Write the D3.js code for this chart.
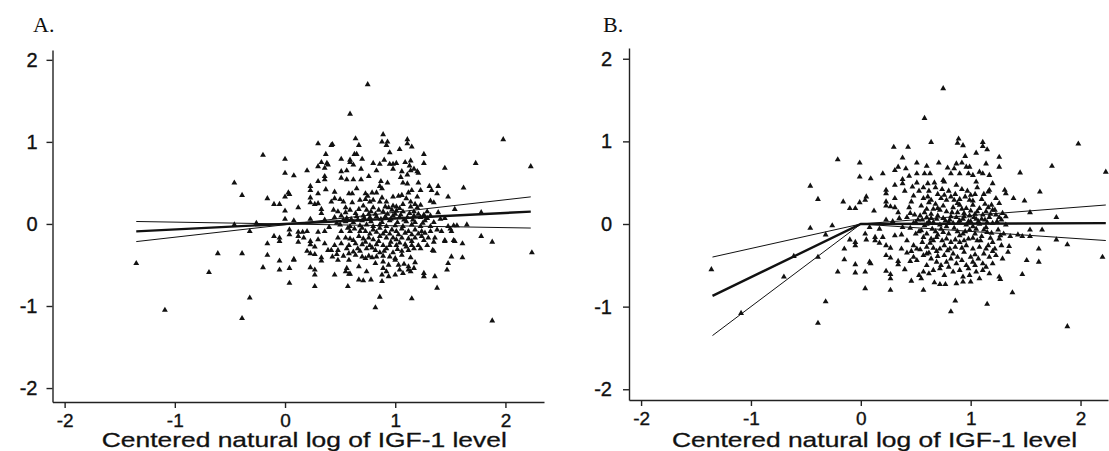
<!DOCTYPE html>
<html>
<head>
<meta charset="utf-8">
<script src="https://cdn.jsdelivr.net/npm/d3@7"></script>
<style>
  body { margin: 0; background: #fff; }
  svg { display: block; }
  .tick text { font-family: "Liberation Sans", Arial, sans-serif; }
</style>
</head>
<body>
<div id="chart"></div>
<script>
// ---- data ----
const xTicks = [-2, -1, 0, 1, 2]
const yTicks = [-2, -1, 0, 1, 2]
const panelLabels = ["A.", "B."]
const xTitle = "Centered natural log of IGF-1 level"

// fitted lines, panel A (straight), x from -1.35 to 2.23
const fitXA = [-1.35, 2.23]
const fitA = [-0.09, 0.15]
const ciA1 = [-0.215, 0.33]
const ciA2 = [0.03, -0.05]

// fitted lines, panel B (knot at 0)
const fitXB = [-1.35, 0, 2.23]
const fitB = [-0.87, 0, 0.01]
const ciB1 = [-0.40, 0, 0.23]
const ciB2 = [-1.35, 0, -0.20]

const pointsA = [
  [0.75,1.70],[0.59,1.34],[-0.46,0.50],[-0.39,0.35],[-0.20,0.84],[0.0,0.79],[0.0,0.62],[0.08,0.59],[-0.16,0.31],[-0.10,0.24],
  [-0.05,0.24],[0.0,0.33],[0.03,0.38],[0.0,0.16],[0.0,0.06],[0.12,0.20],[0.20,0.65],[0.30,0.98],[0.43,0.97],[0.37,0.85],
  [0.64,1.04],[0.89,1.09],[1.11,1.03],[1.15,0.94],[1.26,0.85],[1.26,0.74],[1.45,0.68],[1.73,0.74],[1.98,1.03],[2.23,0.70],
  [1.62,0.44],[1.54,0.18],[1.78,0.14],[1.48,0.33],
  [-1.35,-0.48],[-1.09,-1.05],[-0.69,-0.59],[-0.61,-0.36],[-0.39,-0.36],[-0.39,-1.15],[-0.32,-0.90],[-0.32,-0.09],[-0.26,0.01],[-0.20,-0.53],
  [-0.16,-0.24],[-0.16,-0.38],[-0.10,-0.15],[-0.05,-0.45],[-0.05,-0.56],[0.04,-0.13],[0.04,-0.07],[0.04,-0.72],[0.08,-0.43],[0.04,-0.54],
  [0.27,-0.76],[0.27,-0.56],[0.27,-0.62],[0.45,-0.62],[0.57,-0.76],[0.67,-0.68],[0.71,-0.69],[0.78,-0.68],[0.82,-1.02],[0.86,-0.89],
  [1.15,-0.91],[1.36,-0.64],[1.38,-0.78],[1.47,-0.56],[1.48,-0.48],[1.51,-0.40],[1.61,-0.41],[1.61,-0.24],[1.78,-0.15],[1.88,-0.22],
  [1.88,-1.18],[2.24,-0.35],[1.53,-0.20],[1.45,-0.20],[1.65,-0.01],[1.53,-0.02],[1.35,-0.22],[1.34,-0.32],[1.42,-0.09],[1.51,-0.09],
  [-0.46,-0.01],
  [0.30,0.70],[0.33,0.75],[0.36,0.68],[0.38,0.74],[0.39,0.72],[0.30,0.52],[0.36,0.54],[0.36,0.58],[0.23,0.46],[0.23,0.41],
  [0.37,0.42],[0.04,0.36],[0.30,0.37],[0.23,0.32],[0.23,0.26],[0.27,0.24],[0.30,0.25],[0.33,0.18],[0.33,0.13],[0.08,0.04],
  [0.23,0.06],[0.36,0.05],
  [0.42,0.96],[0.67,0.96],[0.88,1.0],[0.92,0.96],[0.93,1.0],[1.11,0.98],[1.04,0.91],[0.95,0.87],[0.63,0.85],[0.65,0.85],
  [0.59,0.78],[0.70,0.79],[0.51,0.79],[0.80,0.74],[0.86,0.73],[0.90,0.78],[0.95,0.73],[0.98,0.73],[1.01,0.74],[1.09,0.75],
  [1.14,0.77],[1.13,0.71],[1.17,0.67],[1.20,0.64],[1.21,0.62],[0.51,0.64],[0.56,0.65],[0.59,0.75],[0.62,0.72],[0.69,0.67],
  [0.76,0.58],[0.83,0.65],[0.98,0.67],[1.06,0.64],[1.05,0.57],[1.11,0.60],[1.14,0.65],[0.51,0.56],[0.56,0.54],[0.62,0.54],
  [0.69,0.54],[0.87,0.52],[0.93,0.50],[0.86,0.46],[1.07,0.50],[1.11,0.49],[1.21,0.50],[0.45,0.39],[0.58,0.37],[0.61,0.37],
  [0.65,0.43],[0.73,0.37],[0.75,0.34],[0.79,0.38],[0.83,0.38],[0.88,0.43],[0.98,0.33],[1.03,0.34],[1.06,0.35],[1.12,0.38],
  [1.15,0.41],[1.14,0.27],[1.20,0.33],[1.23,0.41],[1.31,0.46],[1.33,0.41],[1.39,0.46],[1.38,0.37],[1.32,0.28],[1.35,0.26],
  [0.45,0.31],[0.50,0.30],[0.42,0.27],[0.53,0.27],[0.68,0.29],[0.77,0.27],[0.80,0.29],[0.92,0.27],[0.86,0.27],[0.98,0.22],
  [1.01,0.21],[1.07,0.24],[1.18,0.24],[1.23,0.23],[1.39,0.14],[0.44,0.17],[0.48,0.15],[0.55,0.14],[0.59,0.17],[0.64,0.13],
  [0.71,0.22],[0.74,0.17],[0.80,0.20],[0.85,0.17],[0.89,0.15],[0.94,0.20],[0.97,0.17],[1.01,0.16],[1.07,0.15],[1.14,0.21],
  [1.20,0.20],[1.26,0.11],[1.29,0.15],[1.32,0.10],[0.45,0.08],[0.51,0.10],[0.56,0.07],[0.65,0.09],[0.71,0.10],[0.77,0.08],
  [0.83,0.09],[0.91,0.09],[0.98,0.10],[1.04,0.08],[1.11,0.08],[1.17,0.10],[1.23,0.08],[1.41,0.06],[1.45,0.07],[1.56,-0.02],
  [1.48,-0.03],[0.50,-0.01],[0.59,-0.03],[0.68,-0.02],[0.74,-0.01],[0.80,-0.03],[0.86,-0.01],[0.92,-0.03],[1.0,-0.02],[1.07,-0.03],
  [1.15,-0.01],[1.23,-0.03],[1.32,-0.03],
  [-0.05,-0.17],[-0.05,-0.21],[0.12,-0.10],[0.12,-0.15],[0.16,-0.10],[0.17,-0.17],[0.20,-0.09],[0.30,-0.10],[0.36,-0.09],[0.30,-0.19],
  [0.23,-0.21],[0.23,-0.25],[0.36,-0.24],[0.39,-0.32],[0.12,-0.22],[0.20,-0.33],[0.23,-0.36],[0.27,-0.37],[0.27,-0.28],[0.08,-0.44],
  [0.33,-0.41],[0.33,-0.45],[0.23,-0.53],
  [0.51,-0.09],[0.59,-0.09],[0.68,-0.09],[0.73,-0.09],[0.80,-0.07],[0.86,-0.05],[0.91,-0.09],[0.97,-0.07],[1.01,-0.09],[1.06,-0.06],
  [1.12,-0.09],[1.18,-0.07],[1.24,-0.09],[1.32,-0.09],[1.38,-0.07],[1.50,-0.06],[0.48,-0.17],[0.55,-0.17],[0.59,-0.18],[0.67,-0.15],
  [0.71,-0.18],[0.76,-0.17],[0.80,-0.19],[0.86,-0.15],[0.92,-0.17],[0.98,-0.17],[1.01,-0.19],[1.06,-0.17],[1.12,-0.18],[1.18,-0.17],
  [1.24,-0.15],[1.30,-0.17],[1.36,-0.17],[1.45,-0.21],[1.54,-0.21],[0.45,-0.26],[0.51,-0.24],[0.58,-0.26],[0.64,-0.24],[0.70,-0.25],
  [0.77,-0.26],[0.83,-0.25],[0.89,-0.26],[0.95,-0.26],[1.01,-0.26],[1.09,-0.25],[1.15,-0.26],[1.21,-0.26],[1.29,-0.26],[0.42,-0.32],
  [0.48,-0.32],[0.56,-0.30],[0.62,-0.34],[0.68,-0.33],[0.74,-0.30],[0.82,-0.32],[0.86,-0.35],[0.92,-0.30],[0.98,-0.35],[1.06,-0.33],
  [1.12,-0.32],[1.17,-0.30],[1.23,-0.30],[1.35,-0.33],[0.47,-0.37],[0.53,-0.39],[0.58,-0.36],[0.64,-0.38],[0.70,-0.40],[0.76,-0.39],
  [0.83,-0.40],[0.89,-0.39],[0.95,-0.40],[1.0,-0.42],[1.06,-0.38],[1.14,-0.41],[0.43,-0.40],[0.48,-0.44],[0.58,-0.44],[0.73,-0.42],
  [0.79,-0.41],[0.82,-0.48],[0.89,-0.46],[0.94,-0.50],[1.0,-0.44],[1.03,-0.50],[1.08,-0.49],[1.12,-0.52],[1.18,-0.47],[0.67,-0.52],
  [0.56,-0.54],[0.89,-0.54],[0.92,-0.58],[1.04,-0.56],[1.12,-0.56],[1.17,-0.54],[0.55,-0.58],[0.58,-0.61],[0.59,-0.61],[0.74,-0.58],
  [0.88,-0.62],[0.94,-0.64],[1.0,-0.62],[1.07,-0.60],[1.14,-0.58],[1.26,-0.60],[1.26,-0.64],[0.88,-0.70],
  [0.55,0.03],[0.62,0.02],[0.70,0.04],[0.78,0.03],[0.88,0.02],[0.95,0.04],[1.02,0.02],[1.10,0.03],[1.18,0.02],[1.27,0.04],
  [0.40,-0.04],[0.47,0.01],
  [0.53,0.05],[0.60,0.06],[0.66,0.05],[0.72,0.07],[0.76,0.12],[0.82,0.12],[0.87,0.06],[0.93,0.12],[0.96,0.06],[1.00,0.12],
  [1.05,0.11],[1.08,0.05],[1.13,0.13],[1.16,0.05],[1.21,0.12],[1.25,0.01],[1.29,0.07],[1.35,0.02],[0.57,-0.05],[0.63,-0.06],
  [0.70,-0.05],[0.77,-0.12],[0.83,-0.10],[0.89,-0.12],[0.95,-0.12],[1.03,-0.13],[1.09,-0.11],[1.15,-0.13],[1.21,-0.12],[1.27,-0.11],
  [0.62,-0.20],[0.73,-0.22],[0.85,-0.21],[0.96,-0.22],[1.04,-0.23],[1.15,-0.21],[1.26,-0.20],[0.66,-0.30],[0.79,-0.29],[0.90,-0.33],
  [1.02,-0.31],[1.10,-0.28],[0.55,0.20],[0.67,0.18],[0.78,0.15],[0.91,0.21],[1.04,0.19],[1.17,0.15],[0.61,0.26],[0.73,0.30],
  [0.88,0.32],[1.10,0.31]
]

const pointsB = [
  [0.75,1.64],[0.58,1.28],[-0.46,0.46],[-0.39,0.30],[-0.21,0.78],[-0.16,0.27],[-0.10,0.19],[-0.05,0.19],[-0.01,0.74],[-0.01,0.57],
  [0.09,0.55],[0.04,0.29],[-0.01,0.26],[0.12,0.16],[0.20,0.61],[0.30,0.93],[0.43,0.93],[0.64,0.99],[0.89,1.03],[1.11,0.99],
  [1.15,0.90],[1.26,0.81],[1.26,0.69],[1.45,0.62],[1.74,0.70],[1.98,0.97],[2.23,0.63],[1.63,0.39],[1.49,0.28],[1.54,0.14],
  [1.78,0.08],[1.39,0.31],
  [-1.36,-0.55],[-1.09,-1.08],[-0.70,-0.64],[-0.61,-0.39],[-0.39,-0.40],[-0.39,-1.20],[-0.32,-0.94],[-0.32,-0.13],[-0.26,-0.02],[-0.46,-0.05],
  [-0.21,-0.58],[-0.15,-0.30],[-0.15,-0.43],[-0.10,-0.19],[-0.05,-0.49],[-0.05,-0.59],[0.04,-0.12],[0.04,-0.78],[0.09,-0.48],[0.04,-0.58],
  [0.27,-0.80],[0.27,-0.61],[0.27,-0.66],[0.46,-0.69],[0.57,-0.80],[0.67,-0.71],[0.72,-0.73],[0.77,-0.73],[0.82,-1.06],[0.86,-0.93],
  [1.15,-0.97],[1.27,-0.67],[1.38,-0.83],[1.47,-0.61],[1.51,-0.44],[1.62,-0.46],[1.62,-0.30],[1.78,-0.19],[1.88,-0.25],[1.88,-1.24],
  [2.20,-0.40],[1.47,-0.15],[1.54,-0.15],[1.65,-0.07],[1.54,-0.07],[1.36,-0.15],[1.35,-0.27],[1.43,-0.13],
  [0.38,0.80],[0.34,0.69],[0.31,0.65],[0.41,0.67],[0.38,0.54],[0.38,0.49],[0.31,0.47],[0.23,0.41],[0.23,0.37],[0.31,0.31],
  [0.23,0.27],[0.23,0.22],[0.27,0.21],[0.31,0.20],[0.34,0.14],[0.48,0.34],[0.46,0.27],[0.51,0.74],[0.58,0.61],[0.60,0.70],
  [0.71,0.74],[0.51,0.61],[0.51,0.50],[0.57,0.44],[0.61,0.49],[0.67,0.50],[0.63,0.61],[0.75,0.53],[0.76,0.51],[0.79,0.68],
  [0.85,0.67],[0.93,0.95],[0.88,0.98],[0.95,0.82],[0.87,0.73],[0.92,0.74],[0.96,0.69],[0.99,0.69],[1.05,0.86],[1.11,0.94],
  [1.14,0.73],[0.82,0.61],[0.90,0.61],[0.98,0.61],[1.02,0.59],[1.08,0.63],[1.11,0.61],[1.17,0.59],[1.20,0.49],[1.05,0.51],
  [0.87,0.47],[0.92,0.42],[0.95,0.33],[0.99,0.29],[1.02,0.28],[1.16,0.39],[1.17,0.41],[1.23,0.31],[1.31,0.41],[1.32,0.37],
  [0.05,0.33],[0.57,0.31],[0.61,0.33],[0.64,0.29],[0.73,0.31],[0.78,0.29],[0.82,0.33],[0.85,0.29],[0.90,0.23],[0.96,0.19],
  [1.02,0.23],[1.08,0.19],[1.14,0.15],[1.20,0.17],[1.26,0.25],[1.32,0.09],[0.72,0.17],[0.78,0.15],[0.66,0.18],[0.45,0.13],
  [0.49,0.11],[0.54,0.10],[0.60,0.08],[0.35,0.07],[0.42,0.08],[0.69,0.06],[0.75,0.07],[0.81,0.05],[0.87,0.08],[0.93,0.06],
  [0.99,0.10],[1.05,0.06],[1.11,0.11],[1.17,0.08],[1.23,0.11],[1.29,0.13],[0.23,0.05],[0.29,0.03],[0.48,0.01],[0.60,0.0],
  [0.72,-0.01],[0.84,0.01],[0.96,-0.01],[1.08,0.0],[1.20,0.01],[1.32,-0.01],
  [-0.05,-0.22],[-0.05,-0.26],[0.05,-0.19],[0.13,-0.16],[0.13,-0.20],[0.17,-0.23],[0.20,-0.16],[0.17,-0.06],[0.08,-0.04],[0.31,-0.14],
  [0.37,-0.13],[0.38,-0.04],[0.23,-0.26],[0.27,-0.29],[0.23,-0.38],[0.27,-0.41],[0.34,-0.45],[0.34,-0.49],[0.42,-0.35],[0.46,-0.33],
  [0.48,-0.40],[0.51,-0.44],[0.51,-0.30],[0.56,-0.22],[0.57,-0.38],[0.60,-0.28],[0.63,-0.23],[0.66,-0.20],[0.69,-0.16],[0.72,-0.30],
  [0.76,-0.26],[0.79,-0.32],[0.84,-0.36],[0.90,-0.22],[0.96,-0.26],[1.02,-0.30],[1.08,-0.28],[1.14,-0.30],[1.20,-0.22],[1.26,-0.18],
  [1.34,-0.34],[0.69,-0.46],[0.73,-0.50],[0.78,-0.46],[0.82,-0.42],[0.87,-0.48],[0.92,-0.44],[0.96,-0.50],[1.02,-0.46],[1.07,-0.42],
  [1.11,-0.48],[1.17,-0.40],[1.23,-0.38],[1.29,-0.42],[0.08,-0.46],[0.23,-0.57],[0.53,-0.62],[0.57,-0.58],[0.55,-0.66],[0.66,-0.56],
  [0.72,-0.54],[0.84,-0.58],[0.90,-0.56],[0.93,-0.64],[0.99,-0.62],[1.05,-0.58],[1.11,-0.56],[1.17,-0.60],[1.26,-0.64],[0.87,-0.72],
  [0.93,-0.70],
  [0.45,-0.05],[0.55,-0.08],[0.65,-0.06],[0.75,-0.10],[0.85,-0.05],[0.95,-0.09],[1.05,-0.06],[1.15,-0.10],[1.25,-0.07],[0.50,-0.12],
  [0.70,-0.13],[0.90,-0.14],[1.10,-0.15],[1.30,-0.12],[0.62,0.03],[0.80,0.02],[1.0,0.03],[1.15,0.02],
  [0.44,0.58],[0.47,0.45],[0.53,0.40],[0.62,0.40],[0.68,0.44],[0.70,0.36],[0.74,0.42],[0.80,0.40],[0.86,0.36],[0.90,0.30],
  [0.97,0.40],[1.04,0.36],[1.10,0.30],[1.13,0.24],[1.06,0.44],[0.55,0.22],[0.60,0.18],[0.68,0.24],[0.75,0.22],[0.84,0.20],
  [0.88,0.14],[0.94,0.13],[1.00,0.16],[1.04,0.12],[1.10,0.06],[1.16,0.20],[1.22,0.17],[1.28,0.05],[0.52,0.05],[0.58,-0.02],
  [0.66,0.02],[0.78,-0.03],[0.90,0.04],[1.02,-0.03],[1.14,-0.04],[1.24,0.03],[0.42,-0.20],[0.48,-0.26],[0.54,-0.31],[0.62,-0.35],
  [0.66,-0.29],[0.70,-0.39],[0.74,-0.20],[0.82,-0.22],[0.86,-0.28],[0.88,-0.40],[0.94,-0.34],[0.98,-0.18],[1.00,-0.40],[1.06,-0.20],
  [1.12,-0.36],[1.16,-0.26],[1.22,-0.30],[1.28,-0.26],[0.60,-0.50],[0.64,-0.42],[0.76,-0.38],[0.80,-0.52],[0.98,-0.54],[1.04,-0.50],
  [1.14,-0.52],[1.20,-0.48],[0.62,-0.60],[0.76,-0.62],[1.08,-0.66],[1.00,-0.70],[0.40,-0.55],[0.45,-0.45],[0.37,-0.30],[0.40,0.40],
  [0.44,0.20],
  [0.50,0.02],[0.56,0.05],[0.64,0.07],[0.70,0.10],[0.77,0.04],[0.82,0.09],[0.89,0.02],[0.94,0.09],[0.98,0.03],[1.03,0.08],
  [1.07,0.03],[1.13,0.05],[1.18,0.12],[1.26,0.08],[0.53,-0.09],[0.60,-0.12],[0.68,-0.09],[0.73,-0.06],[0.80,-0.12],[0.88,-0.09],
  [0.93,-0.12],[0.99,-0.07],[1.04,-0.12],[1.12,-0.07],[1.19,-0.11],[1.27,-0.14],[0.57,-0.16],[0.64,-0.18],[0.78,-0.18],[0.86,-0.19],
  [0.94,-0.20],[1.02,-0.17],[1.09,-0.20],[1.18,-0.17],[0.60,-0.36],[0.69,-0.33],[0.81,-0.30],[0.92,-0.29],[1.04,-0.37],[1.20,-0.33],
  [0.58,0.14],[0.64,0.12],[0.70,0.19],[0.83,0.14],[0.92,0.18],[1.06,0.15],[1.19,0.23],[0.62,0.26],[0.76,0.35],[0.88,0.25],
  [1.00,0.35],[1.12,0.36]
]

// ---- drawing ----
var width = 1109,
    height = 451

var svg = d3.select('#chart')
    .append('svg')
    .attr("width", width)
    .attr("height", height)

svg.append("rect")
    .attr("width", width)
    .attr("height", height)
    .attr("fill", "#fff")

var panels = [
    { label: panelLabels[0], labelX: 33, left: 52.5, right: 544, top: 50, bottom: 402,
      xDom: [-2.11, 2.35], yDom: [-2.17, 2.12], pts: pointsA, yPad: 9,
      lines: [[fitXA, ciA1, 1], [fitXA, ciA2, 1], [fitXA, fitA, 2.4]] },
    { label: panelLabels[1], labelX: 603, left: 629, right: 1108, top: 48, bottom: 400,
      xDom: [-2.11, 2.25], yDom: [-2.13, 2.13], pts: pointsB, yPad: 11,
      lines: [[fitXB, ciB1, 1], [fitXB, ciB2, 1], [fitXB, fitB, 2.4]] }
]

panels.forEach(function (p) {
    var x = d3.scaleLinear().domain(p.xDom).range([p.left, p.right])
    var y = d3.scaleLinear().domain(p.yDom).range([p.bottom, p.top])

    var g = svg.append("g")

    // panel letter
    g.append("text")
        .attr("x", p.labelX)
        .attr("y", 32)
        .attr("font-family", '"Liberation Serif", "Times New Roman", serif')
        .attr("font-size", 22)
        .attr("fill", "#111")
        .text(p.label)

    // y axis
    var yAxis = g.append("g")
        .attr("transform", "translate(" + p.left + ",0)")
        .call(d3.axisLeft(y).tickValues(yTicks).tickFormat(d3.format("d"))
            .tickSize(6).tickSizeOuter(0).tickPadding(p.yPad))

    // x axis
    var xAxis = g.append("g")
        .attr("transform", "translate(0," + p.bottom + ")")
        .call(d3.axisBottom(x).tickValues(xTicks).tickFormat(d3.format("d"))
            .tickSize(6).tickSizeOuter(0).tickPadding(6))

    g.selectAll(".domain, .tick line")
        .attr("stroke", "#222")
        .attr("stroke-width", 1.4)

    // hyphen minus like the original, slightly heavy like the scan
    g.selectAll(".tick text")
        .text(function (d) { return d < 0 ? "-" + Math.abs(d) : d })
        .attr("font-size", 20)
        .attr("fill", "#111")
        .attr("stroke", "#111")
        .attr("stroke-width", 0.35)
    xAxis.selectAll("text").attr("font-size", 19)

    // axis title
    g.append("text")
        .attr("x", (p.left + p.right) / 2 + 6)
        .attr("y", 447)
        .attr("text-anchor", "middle")
        .attr("font-family", '"Liberation Sans", Arial, sans-serif')
        .attr("font-size", 21)
        .attr("textLength", 405)
        .attr("lengthAdjust", "spacingAndGlyphs")
        .attr("fill", "#111")
        .attr("stroke", "#111")
        .attr("stroke-width", 0.3)
        .text(xTitle)

    // scatter points
    g.selectAll(".pt")
        .data(p.pts)
        .enter().append("path")
        .attr("class", "pt")
        .attr("d", d3.symbol().type(d3.symbolTriangle).size(15))
        .attr("transform", function (d) { return "translate(" + x(d[0]) + "," + y(d[1]) + ")" })
        .attr("fill", "#111")

    // fitted line and confidence lines
    p.lines.forEach(function (ln) {
        var xs = ln[0], ys = ln[1]
        var line = d3.line()
            .x(function (d, i) { return x(xs[i]) })
            .y(function (d) { return y(d) })
        g.append("path")
            .datum(ys)
            .attr("d", line)
            .attr("fill", "none")
            .attr("stroke", "#111")
            .attr("stroke-width", ln[2])
    })
})
</script>
</body>
</html>
